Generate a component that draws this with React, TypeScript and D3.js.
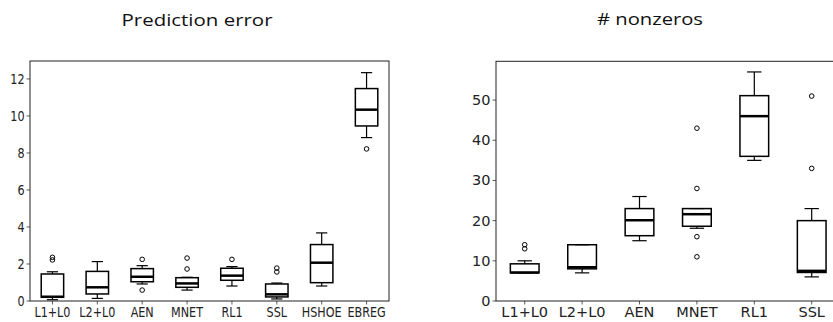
import React from 'react';
import * as d3 from 'd3';

// ---- Prediction error panel ----
const errCategories = ['L1+L0', 'L2+L0', 'AEN', 'MNET', 'RL1', 'SSL', 'HSHOE', 'EBREG'];
const errWhiskerLow = [0.07, 0.14, 0.92, 0.59, 0.81, 0.11, 0.81, 8.83];
const errQ1 = [0.2, 0.38, 1.04, 0.74, 1.12, 0.22, 0.99, 9.46];
const errMedian = [0.23, 0.74, 1.31, 0.95, 1.37, 0.36, 2.07, 10.34];
const errQ3 = [1.46, 1.6, 1.75, 1.26, 1.77, 0.92, 3.05, 11.48];
const errWhiskerHigh = [1.58, 2.13, 1.91, 1.28, 1.86, 0.97, 3.68, 12.34];
const errOutliers = [[2.36, 2.22], [], [2.25, 0.59], [2.32, 1.73], [2.25], [1.78, 1.57], [], [8.22]];
const errTicks = [0, 2, 4, 6, 8, 10, 12];

// ---- # nonzeros panel ----
const nzCategories = ['L1+L0', 'L2+L0', 'AEN', 'MNET', 'RL1', 'SSL'];
const nzWhiskerLow = [7, 7, 15, 18.1, 35, 6];
const nzQ1 = [7, 8, 16.25, 18.6, 36, 7.1];
const nzMedian = [7.1, 8.4, 20.1, 21.6, 46, 7.5];
const nzQ3 = [9.25, 14, 23, 23, 51.1, 20];
const nzWhiskerHigh = [10, 14, 26, 23, 57, 23];
const nzOutliers = [[13, 14], [], [], [43, 28, 16, 11], [], [51, 33]];
const nzTicks = [0, 10, 20, 30, 40, 50];

type PanelProps = {
  cats: string[];
  lo: number[]; q1: number[]; med: number[]; q3: number[]; hi: number[];
  out: number[][];
  ticks: number[];
  ymax: number;
  x0: number; x1: number; y0: number; y1: number;
  sx: number; fontSize: number;
};

function Panel(p: PanelProps) {
  const n = p.cats.length;
  const x = d3.scaleLinear().domain([0.5, n + 0.5]).range([p.x0, p.x1]);
  const y = d3.scaleLinear().domain([0, p.ymax]).range([p.y1, p.y0]);
  const bw = (x(1.25) - x(0.75));
  const cw = bw / 2;
  const txt = (s: string, tx: number, ty: number, anchor: string, key: string) => (
    <text key={key} transform={`translate(${tx},${ty}) scale(${p.sx},1)`} textAnchor={anchor}
      fontFamily="DejaVu Sans" fontSize={p.fontSize} fill="#222">{s}</text>
  );
  return (
    <g>
      {p.cats.map((c, i) => {
        const cx = x(i + 1);
        return (
          <g key={c}>
            <line x1={cx} x2={cx} y1={y(p.lo[i])} y2={y(p.q1[i])} stroke="#000" strokeWidth={1.2} />
            <line x1={cx} x2={cx} y1={y(p.q3[i])} y2={y(p.hi[i])} stroke="#000" strokeWidth={1.2} />
            <line x1={cx - cw / 2} x2={cx + cw / 2} y1={y(p.lo[i])} y2={y(p.lo[i])} stroke="#000" strokeWidth={1.2} />
            <line x1={cx - cw / 2} x2={cx + cw / 2} y1={y(p.hi[i])} y2={y(p.hi[i])} stroke="#000" strokeWidth={1.2} />
            <rect x={cx - bw / 2} y={y(p.q3[i])} width={bw} height={y(p.q1[i]) - y(p.q3[i])}
              fill="none" stroke="#000" strokeWidth={1.5} />
            <line x1={cx - bw / 2} x2={cx + bw / 2} y1={y(p.med[i])} y2={y(p.med[i])} stroke="#000" strokeWidth={2.5} />
            {p.out[i].map((v, j) => (
              <circle key={j} cx={cx} cy={y(v)} r={2.3} fill="none" stroke="#000" strokeWidth={1} />
            ))}
            <line x1={cx} x2={cx} y1={p.y1} y2={p.y1 + 3.5} stroke="#333" strokeWidth={0.8} />
            {txt(c, cx, p.y1 + 15.5, 'middle', 'l' + c)}
          </g>
        );
      })}
      {p.ticks.map((t) => (
        <g key={t}>
          <line x1={p.x0 - 3.5} x2={p.x0} y1={y(t)} y2={y(t)} stroke="#333" strokeWidth={0.8} />
          {txt(String(t), p.x0 - 5.5, y(t) + 5, 'end', 't' + t)}
        </g>
      ))}
      <rect x={p.x0} y={p.y0} width={p.x1 - p.x0} height={p.y1 - p.y0} fill="none" stroke="#222" strokeWidth={1} />
    </g>
  );
}

export default function App() {
  return (
    <svg width={833} height={322} style={{ position: 'absolute', left: 0, top: 0, background: '#fff' }}>
      <rect width={833} height={322} fill="#fff" />
      <text x={197} y={26} textAnchor="middle" fontFamily="Open Sans" fontSize={17}
        textLength={151} lengthAdjust="spacingAndGlyphs" fill="#111">Prediction error</text>
      <text x={650} y={25} textAnchor="middle" fontFamily="Open Sans" fontSize={17}
        textLength={106} lengthAdjust="spacingAndGlyphs" fill="#111"># nonzeros</text>
      <Panel cats={errCategories} lo={errWhiskerLow} q1={errQ1} med={errMedian} q3={errQ3} hi={errWhiskerHigh}
        out={errOutliers} ticks={errTicks} ymax={12.97} x0={30} x1={389} y0={61} y1={301} sx={0.8} fontSize={14} />
      <Panel cats={nzCategories} lo={nzWhiskerLow} q1={nzQ1} med={nzMedian} q3={nzQ3} hi={nzWhiskerHigh}
        out={nzOutliers} ticks={nzTicks} ymax={59.65} x0={496} x1={840.4} y0={61.3} y1={301} sx={1} fontSize={14.5} />
    </svg>
  );
}
